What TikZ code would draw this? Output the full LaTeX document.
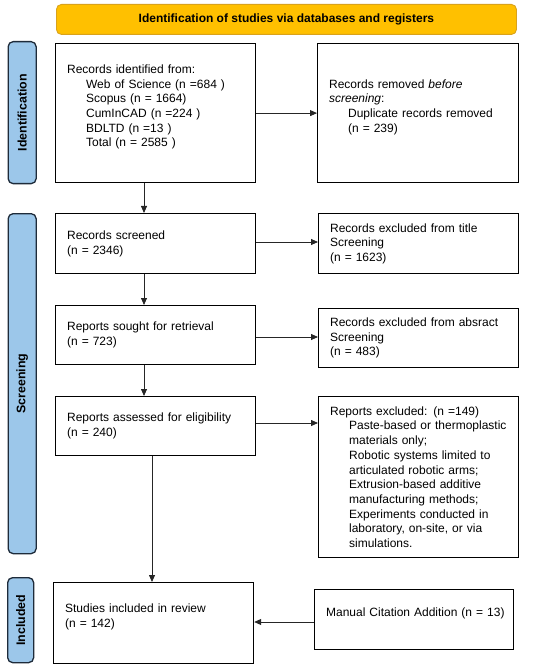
\documentclass[tikz,border=0pt]{standalone}
\usepackage{fontspec}
\setmainfont{Liberation Sans}
\usetikzlibrary{arrows.meta}
\definecolor{bannerfill}{HTML}{FFC000}
\definecolor{bannerline}{HTML}{D9A21B}
\definecolor{barfill}{HTML}{9CC7EA}
\definecolor{barline}{HTML}{1E2B3A}
\tikzset{
  box/.style={draw=black, line width=1.2pt, anchor=north west, align=left,
    inner xsep=11.5pt, inner ysep=0pt, font=\fontsize{12}{14.7}\selectfont},
  banner/.style={draw=bannerline, fill=bannerfill, line width=0.9pt, rounded corners=5pt,
    font=\bfseries\fontsize{12}{14.7}\selectfont, anchor=north west, inner sep=0pt},
  bar/.style={draw=barline, fill=barfill, line width=1.3pt, rounded corners=5pt,
    anchor=north west, inner sep=0pt},
  barlabel/.style={rotate=90, font=\bfseries\fontsize{12.4}{14}\selectfont, inner sep=0pt},
  flow/.style={-{Triangle[length=7pt,width=6pt]}, line width=0.8pt, draw=black!85}
}
\newcommand{\ind}{\hspace*{19pt}}
\begin{document}
\begin{tikzpicture}[x=1pt,y=-1pt]
\useasboundingbox (0,0) rectangle (550,668);
% banner
\node[banner, minimum width=460pt, minimum height=30pt] (ban) at (56,4)
  {Identification of studies via databases and registers};
% side bars
\node[bar, minimum width=28pt, minimum height=142pt] (barI) at (7.5,41) {};
\node[barlabel] (labI) at (barI.center) {Identification};
\node[bar, minimum width=28pt, minimum height=340pt] (barS) at (7.5,213) {};
\node[barlabel] (labS) at (barS.center) {Screening};
\node[bar, minimum width=26pt, minimum height=85pt] (barC) at (7,577) {};
\node[barlabel] (labC) at (barC.center) {Included};
% left column
\node[box, minimum width=200pt, text width=177pt, minimum height=139pt] (ident) at (55,43)
  {\mbox{Records identified from:}\\
   \ind\mbox{Web of Science (n =684 )}\\
   \ind\mbox{Scopus (n = 1664)}\\
   \ind\mbox{CumInCAD (n =224 )}\\
   \ind\mbox{BDLTD (n =13 )}\\
   \ind\mbox{Total (n = 2585 )}\\ \mbox{}};
\node[box, minimum width=200pt, text width=177pt, minimum height=60pt] (scr) at (55,213)
  {\mbox{Records screened}\\ \mbox{(n = 2346)}};
\node[box, minimum width=200pt, text width=177pt, minimum height=59pt] (sought) at (55,305)
  {\mbox{Reports sought for retrieval}\\ \mbox{(n = 723)}};
\node[box, minimum width=200pt, text width=177pt, minimum height=59pt] (assess) at (55,396)
  {\mbox{Reports assessed for eligibility}\\ \mbox{(n = 240)}};
\node[box, minimum width=200pt, text width=177pt, minimum height=81pt] (incl) at (53,582)
  {\mbox{Studies included in review}\\ \mbox{(n = 142)}\\ \mbox{}};
% right column
\node[box, minimum width=201pt, text width=178pt, minimum height=139pt] (dup) at (317,43)
  {\mbox{Records removed \textit{before}}\\
   \mbox{\textit{screening}:}\\
   \ind\mbox{Duplicate records removed}\\
   \ind\mbox{(n = 239)}\\ \mbox{}};
\node[box, minimum width=200pt, text width=177pt, minimum height=60pt] (extitle) at (318,213)
  {\mbox{Records excluded from title}\\ \mbox{Screening}\\ \mbox{(n = 1623)}};
\node[box, minimum width=200pt, text width=177pt, minimum height=59pt] (exabs) at (318,308)
  {\mbox{Records excluded from absract}\\ \mbox{Screening}\\ \mbox{(n = 483)}};
\node[box, minimum width=200pt, text width=177pt, minimum height=161pt] (exrep) at (318,396)
  {\mbox{Reports excluded: (n =149)}\\
   \ind\mbox{Paste-based or thermoplastic}\\
   \ind\mbox{materials only;}\\
   \ind\mbox{Robotic systems limited to}\\
   \ind\mbox{articulated robotic arms;}\\
   \ind\mbox{Extrusion-based additive}\\
   \ind\mbox{manufacturing methods;}\\
   \ind\mbox{Experiments conducted in}\\
   \ind\mbox{laboratory, on-site, or via}\\
   \ind\mbox{simulations.}};
\node[box, minimum width=199pt, text width=176pt, minimum height=60pt] (manual) at (314,589)
  {\mbox{Manual Citation Addition (n = 13)}\\ \mbox{}};
% connectors
\draw[flow] (ident.east) -- (dup.west);
\draw[flow] (ident.south -| 144,0) -- (scr.north -| 144,0);
\draw[flow] (scr.east |- 0,242) -- (extitle.west |- 0,242);
\draw[flow] (scr.south -| 144,0) -- (sought.north -| 144,0);
\draw[flow] (sought.east |- 0,337) -- (exabs.west |- 0,337);
\draw[flow] (sought.south -| 144,0) -- (assess.north -| 144,0);
\draw[flow] (assess.east |- 0,423) -- (exrep.west |- 0,423);
\draw[flow] (assess.south -| 152,0) -- (incl.north -| 152,0);
\draw[flow] (manual.west |- 0,622) -- (incl.east |- 0,622);
\end{tikzpicture}
\end{document}
